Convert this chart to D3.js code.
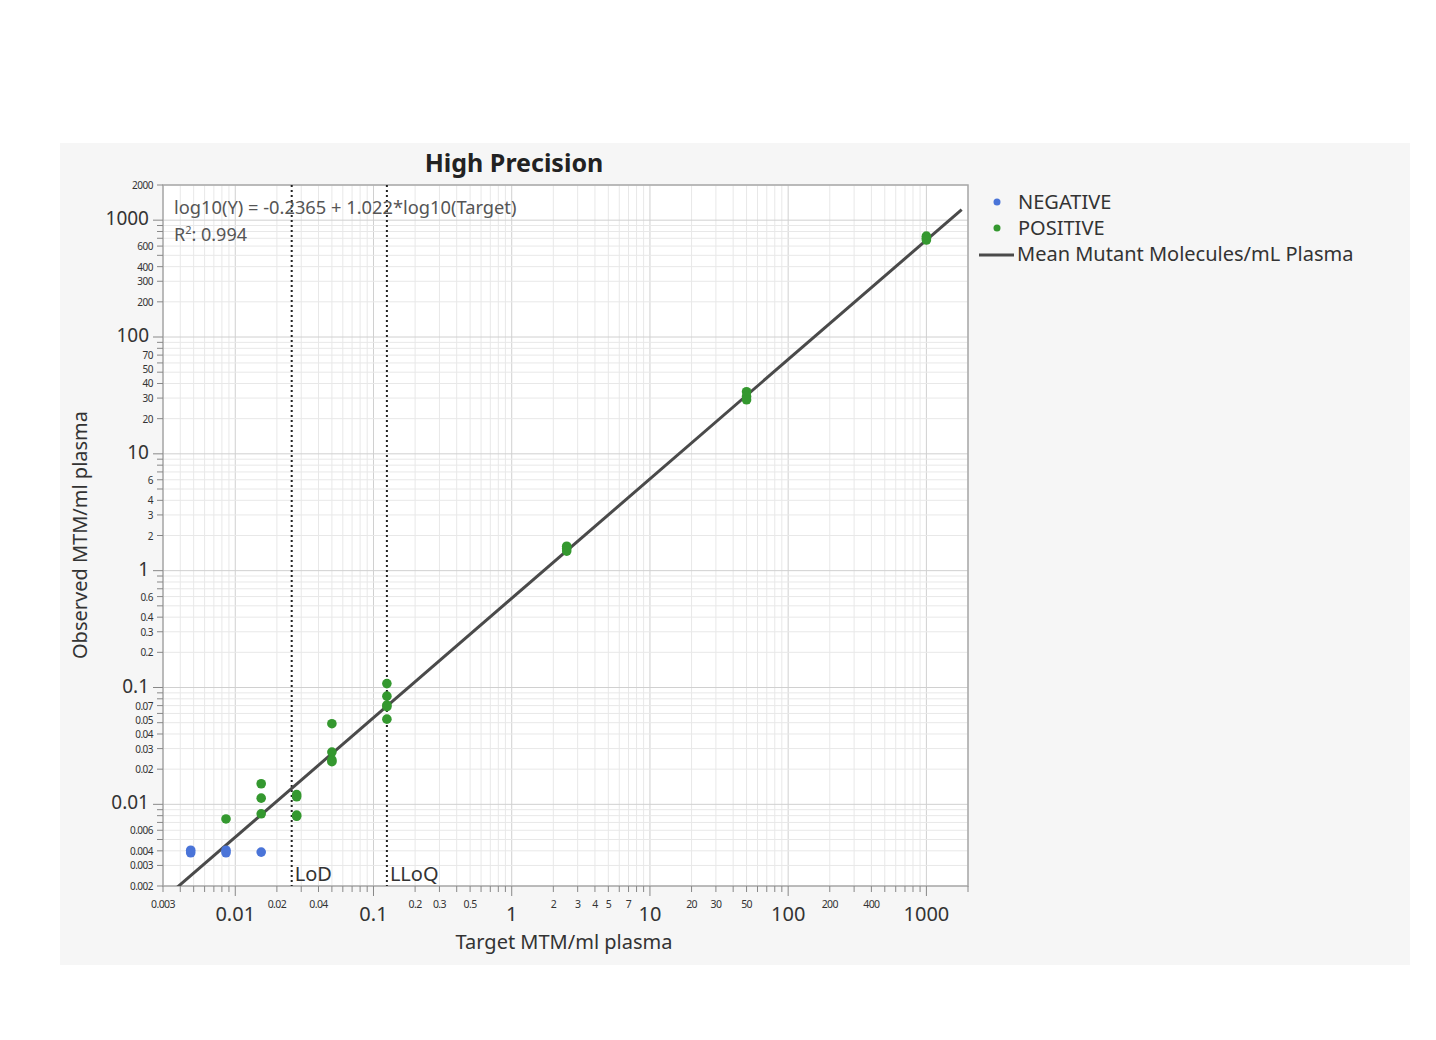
<!DOCTYPE html>
<html>
<head>
<meta charset="utf-8">
<script src="https://cdn.jsdelivr.net/npm/d3@7"></script>
<style>
  body { margin: 0; background: #fff; }
  svg text { font-family: "Noto Sans", "Open Sans", sans-serif; }
</style>
</head>
<body>
<svg id="chart" width="1436" height="1040"></svg>
<script>
const negTarget = [0.00476, 0.00476, 0.00857, 0.00857, 0.0154];
const negObserved = [0.00405, 0.00385, 0.00405, 0.00385, 0.0039];

const posTarget = [0.00857, 0.0154, 0.0154, 0.0154, 0.0278, 0.0278, 0.0278, 0.0278,
  0.05, 0.05, 0.05, 0.05, 0.125, 0.125, 0.125, 0.125, 0.125, 2.5, 2.5, 2.5, 50, 50, 50, 1000, 1000, 1000];
const posObserved = [0.0075, 0.0150, 0.0113, 0.0083, 0.0121, 0.0116, 0.0081, 0.0079,
  0.049, 0.028, 0.024, 0.0232, 0.108, 0.0843, 0.0707, 0.0685, 0.0536, 1.62, 1.55, 1.47, 34, 31, 29, 730, 700, 676];

// fit
const fitIntercept = -0.2365;
const fitSlope = 1.022;
const fitR2 = 0.994;
const fitRange = [0.003, 1800];

// reference lines
const refLines = [{ name: "LoD", value: 0.0256 }, { name: "LLoQ", value: 0.125 }];

// tick labels
const xMajorLabels = [0.01, 0.1, 1, 10, 100, 1000];
const xMinorLabels = [0.003, 0.02, 0.04, 0.2, 0.3, 0.5, 2, 3, 4, 5, 7, 20, 30, 50, 200, 400];
const yMajorLabels = [0.01, 0.1, 1, 10, 100, 1000];
const yMinorLabels = [0.002, 0.003, 0.004, 0.006, 0.02, 0.03, 0.04, 0.05, 0.07,
  0.2, 0.3, 0.4, 0.6, 2, 3, 4, 6, 20, 30, 40, 50, 70, 200, 300, 400, 600, 2000];

const legendItems = ["NEGATIVE", "POSITIVE", "Mean Mutant Molecules/mL Plasma"];
const colNeg = "#4a74d8", colPos = "#34982f";

const svg = d3.select("#chart");
const plot = { left: 163, right: 968, top: 185, bottom: 886 };

const x = d3.scaleLog().domain([0.003, 2000]).range([plot.left, plot.right]);
const y = d3.scaleLog().domain([0.002, 2000]).range([plot.bottom, plot.top]);

// every 1..9 multiple in each decade
function logGrid(lo, hi) {
  const out = [];
  for (let e = -4; e <= 4; e++) {
    for (let m = 1; m <= 9; m++) {
      const v = +(m * Math.pow(10, e)).toPrecision(3);
      if (v >= lo && v <= hi) out.push(v);
    }
  }
  return out;
}
const isMajor = v => Math.abs(Math.log10(v) - Math.round(Math.log10(v))) < 1e-9;
const fmt = v => String(+v.toPrecision(3));
const lead = v => Math.round(v / Math.pow(10, Math.floor(Math.log10(v) + 1e-9)));

// grey panel
svg.append("rect").attr("x", 60).attr("y", 143).attr("width", 1350).attr("height", 822)
  .attr("fill", "#f6f6f6");

svg.append("rect").attr("x", plot.left).attr("y", plot.top)
  .attr("width", plot.right - plot.left).attr("height", plot.bottom - plot.top)
  .attr("fill", "#fff");

const xg = logGrid(0.003, 2000), yg = logGrid(0.002, 2000);

// gridlines
svg.append("g").selectAll("line").data(xg).join("line")
  .attr("x1", d => x(d)).attr("x2", d => x(d))
  .attr("y1", plot.top).attr("y2", plot.bottom)
  .attr("stroke", d => isMajor(d) ? "#d0d0d0" : "#e8e8e8").attr("stroke-width", 1);
svg.append("g").selectAll("line").data(yg).join("line")
  .attr("y1", d => y(d)).attr("y2", d => y(d))
  .attr("x1", plot.left).attr("x2", plot.right)
  .attr("stroke", d => isMajor(d) ? "#d0d0d0" : "#e8e8e8").attr("stroke-width", 1);

// frame
svg.append("rect").attr("x", plot.left).attr("y", plot.top)
  .attr("width", plot.right - plot.left).attr("height", plot.bottom - plot.top)
  .attr("fill", "none").attr("stroke", "#a8a8a8").attr("stroke-width", 1.5);

// ticks
svg.append("g").selectAll("line").data(xg).join("line")
  .attr("x1", d => x(d)).attr("x2", d => x(d))
  .attr("y1", plot.bottom).attr("y2", d => plot.bottom + (isMajor(d) ? 10 : 6))
  .attr("stroke", "#888");
svg.append("g").selectAll("line").data(yg).join("line")
  .attr("y1", d => y(d)).attr("y2", d => y(d))
  .attr("x1", plot.left).attr("x2", d => plot.left - (isMajor(d) ? 10 : 6))
  .attr("stroke", "#888");

// tick labels
svg.append("g").selectAll("text").data(xMinorLabels).join("text")
  .attr("x", d => x(d)).attr("y", 908).attr("text-anchor", "middle")
  .attr("font-size", 10.5).attr("letter-spacing", -0.6).attr("fill", "#333").text(fmt);
svg.append("g").selectAll("text").data(xMajorLabels).join("text")
  .attr("x", d => x(d)).attr("y", 921).attr("text-anchor", "middle")
  .attr("font-size", 20).attr("fill", "#333").text(fmt);
// the 5s sit a little higher so they do not run into the 4s
svg.append("g").selectAll("text").data(yMinorLabels).join("text")
  .attr("x", 153).attr("y", d => y(d) + 4 - (lead(d) === 5 ? 3 : 0)).attr("text-anchor", "end")
  .attr("font-size", 10).attr("letter-spacing", -0.5).attr("fill", "#333").text(fmt);
svg.append("g").selectAll("text").data(yMajorLabels).join("text")
  .attr("x", 149).attr("y", d => y(d) + 5).attr("text-anchor", "end")
  .attr("font-size", 19).attr("fill", "#333").text(fmt);

// axis titles
svg.append("text").attr("x", 564).attr("y", 949).attr("text-anchor", "middle")
  .attr("font-size", 20).attr("fill", "#333").text("Target MTM/ml plasma");
svg.append("text").attr("transform", "translate(87,535) rotate(-90)").attr("text-anchor", "middle")
  .attr("font-size", 20).attr("fill", "#333").text("Observed MTM/ml plasma");

svg.append("text").attr("x", 514).attr("y", 172).attr("text-anchor", "middle")
  .attr("font-size", 25).attr("font-weight", "bold").attr("fill", "#222").text("High Precision");

// reference lines
const refG = svg.append("g");
refG.selectAll("line").data(refLines).join("line")
  .attr("x1", d => x(d.value)).attr("x2", d => x(d.value))
  .attr("y1", plot.top).attr("y2", plot.bottom)
  .attr("stroke", "#222").attr("stroke-width", 2).attr("stroke-dasharray", "2,3");
refG.selectAll("text").data(refLines).join("text")
  .attr("x", d => x(d.value) + 3).attr("y", 881)
  .attr("font-size", 20).attr("fill", "#333").text(d => d.name);

// fit line, clipped to the plot
svg.append("clipPath").attr("id", "clip").append("rect")
  .attr("x", plot.left).attr("y", plot.top)
  .attr("width", plot.right - plot.left).attr("height", plot.bottom - plot.top);
const fitLine = d3.line()
  .x(d => x(d))
  .y(d => y(Math.pow(10, fitIntercept + fitSlope * Math.log10(d))));
svg.append("path").datum(fitRange).attr("d", fitLine).attr("clip-path", "url(#clip)")
  .attr("fill", "none").attr("stroke", "#4a4a4a").attr("stroke-width", 3);

// points
svg.append("g").selectAll("circle").data(negTarget).join("circle")
  .attr("cx", d => x(d)).attr("cy", (d, i) => y(negObserved[i])).attr("r", 4.8)
  .attr("fill", colNeg);
svg.append("g").selectAll("circle").data(posTarget).join("circle")
  .attr("cx", d => x(d)).attr("cy", (d, i) => y(posObserved[i])).attr("r", 4.8)
  .attr("fill", colPos);

// equation
svg.append("text").attr("x", 174).attr("y", 214).attr("font-size", 18.3).attr("fill", "#555")
  .text(`log10(Y) = ${fitIntercept} + ${fitSlope}*log10(Target)`);
const r2 = svg.append("text").attr("x", 174).attr("y", 241).attr("font-size", 18).attr("fill", "#555");
r2.append("tspan").text("R");
r2.append("tspan").attr("font-size", 11).attr("dy", -7).text("2");
r2.append("tspan").attr("dy", 7).text(`: ${fitR2}`);

// legend
const leg = svg.append("g").attr("transform", "translate(979,202)");
leg.selectAll("circle").data(legendItems.slice(0, 2)).join("circle")
  .attr("cx", 18).attr("cy", (d, i) => i * 26).attr("r", 3.5)
  .attr("fill", (d, i) => i === 0 ? colNeg : colPos);
leg.append("line").attr("x1", 0).attr("x2", 35).attr("y1", 53).attr("y2", 53)
  .attr("stroke", "#4a4a4a").attr("stroke-width", 3);
leg.selectAll("text").data(legendItems).join("text")
  .attr("x", (d, i) => i < 2 ? 39 : 38).attr("y", (d, i) => i * 26 + 7)
  .attr("font-size", 20).attr("fill", "#333").text(d => d);
</script>
</body>
</html>
